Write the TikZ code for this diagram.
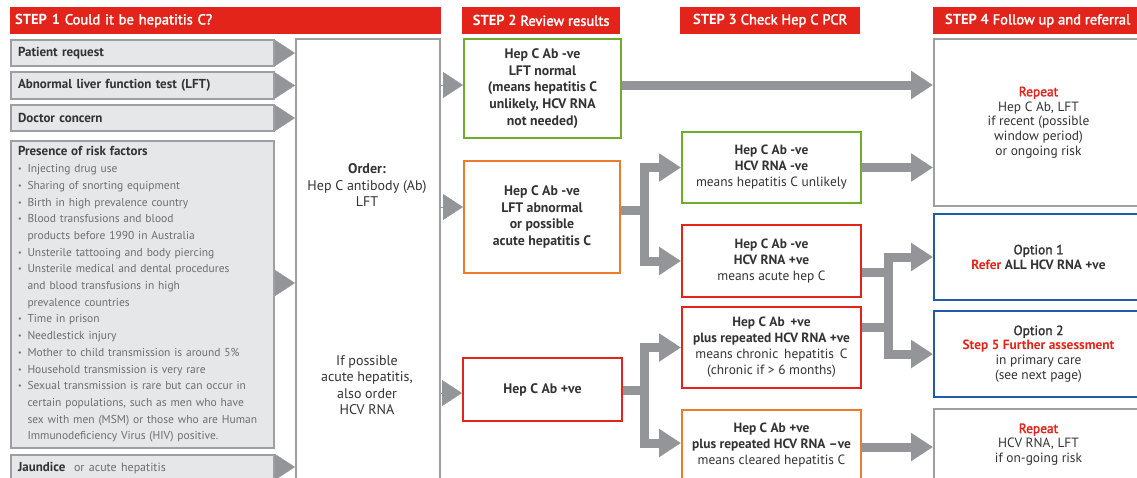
\documentclass[tikz,border=0pt]{standalone}
\usepackage{fontspec}
\setmainfont{PT Sans}
\newfontfamily\semib[FakeBold=2.0]{PT Sans}
\usetikzlibrary{arrows.meta}
\definecolor{hred}{HTML}{E3241B}
\definecolor{hgreen}{HTML}{6FAC2C}
\definecolor{horange}{HTML}{EC7B2C}
\definecolor{hblue}{HTML}{1F5BA8}
\definecolor{agray}{HTML}{939598}
\definecolor{bgray}{HTML}{9D9FA2}
\definecolor{lgray}{HTML}{E6E7E8}
\definecolor{tdark}{HTML}{333333}
\definecolor{tgray}{HTML}{6D6E71}
\newcommand{\bul}{\makebox[9.5pt][l]{\raisebox{1pt}{\fontsize{8}{8}\selectfont •}}}
\newcommand{\ind}{\hspace*{9.5pt}}
\begin{document}
\begin{tikzpicture}[x=1pt,y=-1pt,
  every node/.style={text=tdark},
  hdr/.style={fill=hred, text=white, font=\fontsize{14.5}{17}\selectfont, minimum height=27pt, inner ysep=0pt, anchor=north west, align=left},
  lbox/.style={draw=bgray, line width=2pt, fill=lgray, anchor=north west, align=left, inner ysep=0pt, inner xsep=7pt, text width=249pt, font=\fontsize{13}{15}\selectfont\bfseries},
  cbox/.style={draw=#1, line width=2pt, fill=white, anchor=north west, align=center, inner sep=0pt},
  s2/.style={font=\fontsize{13.8}{16.6}\selectfont\bfseries},
  s3/.style={font=\fontsize{13.4}{16}\selectfont},
  s4/.style={font=\fontsize{13.4}{14.8}\selectfont},
  tri/.style={draw=agray, line width=0.4pt, -{Triangle[length=20pt,width=26pt]}},
  line/.style={draw=agray, line width=9pt},
  conn/.style={draw=agray, line width=9pt, line join=miter, -{Triangle[length=22pt,width=27pt]}},
]
\useasboundingbox (0,0) rectangle (1137,477);
\clip (0,0) rectangle (1137,477);

% headers
\node[hdr, text width=421pt, inner xsep=5pt] (h1) at (10,7) {\textbf{STEP 1} {\semib Could it be hepatitis C?}};
\node[hdr, minimum width=158pt] (h2) at (462,7) {\textbf{STEP 2} {\semib Review results}};
\node[hdr, minimum width=180pt] (h3) at (680,7) {\textbf{STEP 3} {\semib Check Hep C PCR}};
\node[hdr, minimum width=209pt] (h4) at (933,7) {\textbf{STEP 4} {\semib Follow up and referral}};

% step 1 boxes
\node[lbox, minimum height=26pt] (pr) at (10,39) {Patient request};
\node[lbox, minimum height=27pt] (lft) at (10,71) {Abnormal liver function test (LFT)};
\node[lbox, minimum height=26pt] (dc) at (10,104) {Doctor concern};
\node[lbox, minimum height=307pt, font=\fontsize{11.5}{16.7}\selectfont] (risk) at (10,140) {%
{\fontsize{13}{16.7}\selectfont\bfseries Presence of risk factors}\\
\color{tgray}\bul Injecting drug use\\
\bul Sharing of snorting equipment\\
\bul Birth in high prevalence country\\
\bul Blood transfusions and blood\\
\ind products before 1990 in Australia\\
\bul Unsterile tattooing and body piercing\\
\bul Unsterile medical and dental procedures\\
\ind and blood transfusions in high\\
\ind prevalence countries\\
\bul Time in prison\\
\bul Needlestick injury\\
\bul Mother to child transmission is around 5\%\\
\bul Household transmission is very rare\\
\bul Sexual transmission is rare but can occur in\\
\ind certain populations, such as men who have\\
\ind sex with men (MSM) or those who are Human\\
\ind Immunodeficiency Virus (HIV) positive.};
\node[lbox, minimum height=26pt] (jd) at (10,454) {Jaundice\,\, {\mdseries\fontsize{12}{15}\selectfont\color{tgray}or acute hepatitis}};

% order box
\node[cbox=bgray, minimum width=144pt, minimum height=452pt] (mid) at (295,38) {};
\node[font=\fontsize{14}{16.7}\selectfont, align=center] (ord) at (367,185) {\textbf{Order:}\\Hep C antibody (Ab)\\LFT};
\node[font=\fontsize{14}{16.3}\selectfont, align=center] (acu) at (367,385) {If possible\\acute hepatitis,\\also order\\HCV RNA};

% step 2
\node[cbox=hgreen, s2, minimum width=157pt, minimum height=99pt] (g2) at (463,38) {Hep C Ab -ve\\LFT normal\\(means hepatitis C\\unlikely, HCV RNA\\not needed)};
\node[cbox=horange, s2, minimum width=156pt, minimum height=112pt] (o2) at (463,160) {Hep C Ab -ve\\LFT abnormal\\or possible\\acute hepatitis C};
\node[cbox=hred, s2, minimum width=159pt, minimum height=63pt] (r2) at (462,357) {Hep C Ab +ve};

% step 3
\node[cbox=hgreen, s3, minimum width=179pt, minimum height=71pt] (g3) at (681,131) {\textbf{Hep C Ab -ve}\\\textbf{HCV RNA -ve}\\means hepatitis C unlikely};
\node[cbox=hred, s3, minimum width=179pt, minimum height=72pt] (r3a) at (681,224) {\textbf{Hep C Ab -ve}\\\textbf{HCV RNA +ve}\\means acute hep C};
\node[cbox=hred, s3, minimum width=179pt, minimum height=81pt] (r3b) at (681,306) {\textbf{Hep C Ab\, +ve}\\\textbf{plus repeated HCV RNA +ve}\\means chronic\, hepatitis\, C\\(chronic if > 6 months)};
\node[cbox=horange, s3, minimum width=179pt, minimum height=70pt] (o3) at (681,409) {\textbf{Hep C Ab +ve}\\\textbf{plus repeated HCV RNA –ve}\\means cleared hepatitis C};

% step 4
\node[cbox=bgray, s4, minimum width=209pt, minimum height=167pt] (s4a) at (933,38) {{\semib\color{hred}Repeat}\\Hep C Ab, LFT\\if recent (possible\\window period)\\or ongoing risk};
\node[cbox=hblue, s4, minimum width=209pt, minimum height=86pt] (opt1) at (933,213) {{\semib Option 1}\\{\bfseries\color{hred}Refer} \textbf{ALL HCV RNA +ve}};
\node[cbox=hblue, s4, minimum width=209pt, minimum height=86pt] (opt2) at (933,310) {{\semib Option 2}\\{\bfseries\color{hred}Step 5 Further assessment}\\in primary care\\(see next page)};
\node[cbox=bgray, s4, minimum width=209pt, minimum height=71pt] (s4r) at (933,408) {{\semib\color{hred}Repeat}\\HCV RNA, LFT\\if on-going risk};

% helper coordinates
\coordinate (yr) at (0,283);
\coordinate (yj) at (0,467);
\coordinate (m1) at (0,85);
\coordinate (m2) at (0,207);
\coordinate (m3) at (0,393);
\coordinate (b1) at (644,210);
\coordinate (b2) at (644,390);
\coordinate (y443) at (0,443);
\coordinate (y447) at (0,447);
\coordinate (j1) at (888,272);
\coordinate (j2) at (888,327);

% step 1 -> order
\draw[tri] (pr.east) -- (pr.east -| mid.west);
\draw[tri] (lft.east) -- (lft.east -| mid.west);
\draw[tri] (dc.east) -- (dc.east -| mid.west);
\draw[tri] (risk.east |- yr) -- (mid.west |- yr);
\draw[tri] (jd.east |- yj) -- (mid.west |- yj);

% order -> step 2
\draw[tri] (mid.east |- m1) -- (g2.west |- m1);
\draw[tri] (mid.east |- m2) -- (o2.west |- m2);
\draw[tri] (mid.east |- m3) -- (r2.west |- m3);

% step 2 -> step 3/4
\draw[conn] (g2.east |- m1) -- (s4a.west |- m1);
\draw[line] (o2.east |- b1) -- (b1);
\draw[conn] (b1) |- (g3.west);
\draw[conn] (b1) |- (r3a.west);
\draw[line] (r2.east |- b2) -- (b2);
\draw[conn] (b2) |- (r3b.west);
\draw[conn] (b2) |- (o3.west |- y443);

% step 3 -> step 4
\draw[conn] (g3.east) -- (g3.east -| s4a.west);
\draw[line] (r3a.east |- j1) -- (j1);
\draw[line] (r3b.east |- j2) -- (j2);
\draw[line] (j1) -- (j2);
\draw[conn] (j1) |- (opt1.west);
\draw[conn] (j2) |- (opt2.west);
\draw[conn] (o3.east |- y447) -- (s4r.west |- y447);
\end{tikzpicture}
\end{document}
